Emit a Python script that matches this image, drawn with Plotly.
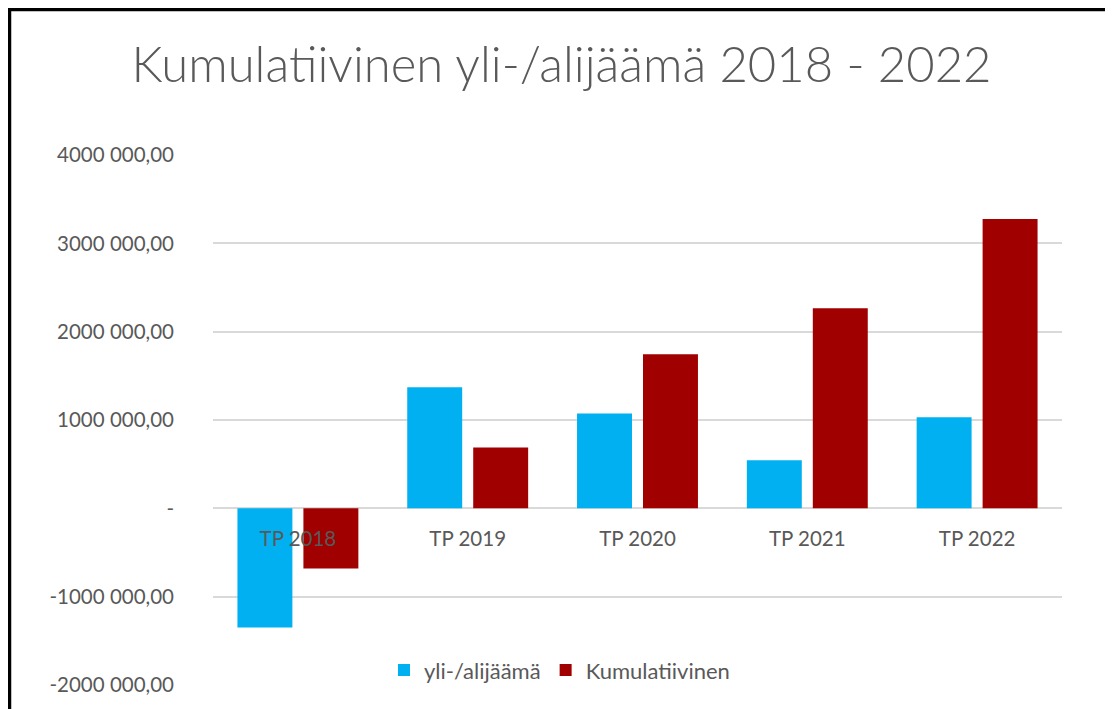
import plotly.graph_objects as go

categories = ["TP 2018", "TP 2019", "TP 2020", "TP 2021", "TP 2022"]
yli_alijaama = [-1350000, 1370000, 1075000, 545000, 1030000]
kumulatiivinen = [-680000, 690000, 1745000, 2265000, 3275000]
tick_values = [-2000000, -1000000, 0, 1000000, 2000000, 3000000, 4000000]

def fmt(v):
    if v == 0:
        return "-"
    s = f"{abs(int(v)):d}"
    head, tail = s[:-3], s[-3:]
    return ("-" if v < 0 else "") + f"{head} {tail},00"

tick_text = [fmt(v) for v in tick_values]
ymin, ymax = tick_values[0], tick_values[-1]

grey = "#595959"
font_fam = "Lato, Carlito, 'Open Sans', sans-serif"

fig = go.Figure()
fig.add_trace(go.Bar(x=categories, y=yli_alijaama, name="yli-/alijäämä",
                     marker=dict(color="#00B0F0", line=dict(width=0))))
fig.add_trace(go.Bar(x=categories, y=kumulatiivinen, name="Kumulatiivinen",
                     marker=dict(color="#A00000", line=dict(width=0))))

fig.update_layout(
    width=1113, height=709,
    margin=dict(l=205, r=59, t=147, b=32),
    paper_bgcolor="white", plot_bgcolor="white",
    font=dict(family=font_fam, color=grey, size=20),
    title=dict(text="Kumulatiivinen yli-/alijäämä 2018 - 2022",
               x=0.4973, xanchor="center", y=0.9196, yanchor="middle",
               font=dict(family=font_fam, size=49, color=grey, weight=300)),
    barmode="group", bargap=0.223, bargroupgap=0.167,
    showlegend=True,
    legend=dict(orientation="h", x=0.2014, xanchor="left", y=0.028, yanchor="middle",
                font=dict(size=22, color=grey), bgcolor="rgba(0,0,0,0)",
                tracegroupgap=0),
    xaxis=dict(anchor="free", position=(0 - ymin) / (ymax - ymin),
               showgrid=False, showline=False, ticks="", zeroline=False,
               tickfont=dict(size=20.5, color=grey), ticklabelstandoff=16),
    yaxis=dict(range=[ymin, ymax], tickvals=tick_values, ticktext=tick_text,
               showgrid=True, gridcolor="#D9D9D9", gridwidth=1.5,
               zeroline=True, zerolinecolor="#D9D9D9", zerolinewidth=1.5,
               showline=False, ticks="", tickfont=dict(size=20.5, color=grey),
               ticklabelstandoff=38),
    shapes=[
        dict(type="rect", xref="paper", yref="paper",
             x0=-0.2397, x1=1.0536, y0=-0.1, y1=1.2745,
             line=dict(color="black", width=3.5), layer="above"),
    ],
)

fig.write_html("out.html")
